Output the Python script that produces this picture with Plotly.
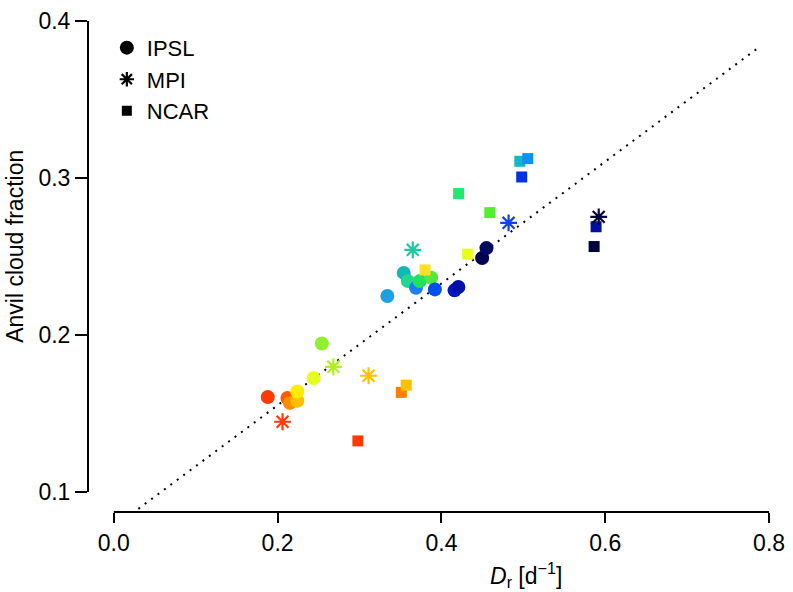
import plotly.graph_objects as go

# ---- data ----
ipsl_x = [0.188, 0.212, 0.215, 0.224, 0.224, 0.244, 0.254, 0.334, 0.354, 0.359,
          0.369, 0.3735, 0.3875, 0.392, 0.416, 0.4207, 0.4497, 0.455]
ipsl_y = [0.1604, 0.1598, 0.1567, 0.1581, 0.1640, 0.1726, 0.1945, 0.2248, 0.2395, 0.2343,
          0.2300, 0.2343, 0.2364, 0.2290, 0.2284, 0.2305, 0.2490, 0.2553]
ipsl_c = ["#ff3a00", "#ff5a00", "#ff8c00", "#ffbe00", "#ffec00", "#e4ff1c", "#8ef02e",
          "#1ea0e0", "#12b6b6", "#22d890", "#1a80f0", "#22e060", "#52e83e", "#0050f0",
          "#0018c0", "#0010a8", "#00004e", "#000a60"]

mpi_x = [0.206, 0.268, 0.311, 0.365, 0.482, 0.592]
mpi_y = [0.1447, 0.1797, 0.1740, 0.2542, 0.2714, 0.2752]
mpi_c = ["#ff3a10", "#b0f020", "#ffc000", "#20c8a0", "#1040f0", "#000040"]

ncar_x = [0.298, 0.351, 0.357, 0.380, 0.432, 0.421, 0.459, 0.4957, 0.5054, 0.498, 0.5888, 0.5864]
ncar_y = [0.1325, 0.1634, 0.1680, 0.2414, 0.2515, 0.2900, 0.2779, 0.3106, 0.3123, 0.3006, 0.2689, 0.2563]
ncar_c = ["#ff3a00", "#ff8000", "#ffc000", "#ffe020", "#e8ff20", "#20e870", "#50f030",
          "#10b8c8", "#1090f0", "#0030e0", "#0010a0", "#000040"]

# regression line (dotted)
fit_slope = 0.388
fit_intercept = 0.0776
fit_x = [0.03, 0.79]

x_ticks = [0.0, 0.2, 0.4, 0.6, 0.8]
x_ticklabels = ["0.0", "0.2", "0.4", "0.6", "0.8"]
y_ticks = [0.1, 0.2, 0.3, 0.4]
y_ticklabels = ["0.1", "0.2", "0.3", "0.4"]

FONT = "Liberation Sans, Arial, Helvetica, sans-serif"
FS = 23

W, H = 793, 592
ML, MR, MT, MB = 88, 8, 8, 80
PW, PH = W - ML - MR, H - MT - MB

fig = go.Figure()

fig.add_trace(go.Scatter(
    x=fit_x, y=[fit_intercept + fit_slope * v for v in fit_x],
    mode="lines", line=dict(color="black", width=2, dash="2px,6px"),
    showlegend=False, hoverinfo="skip"))

fig.add_trace(go.Scatter(
    x=ipsl_x, y=ipsl_y, mode="markers", showlegend=False,
    marker=dict(symbol="circle", size=14, color=ipsl_c, line=dict(width=0))))
fig.add_trace(go.Scatter(
    x=ncar_x, y=ncar_y, mode="markers", showlegend=False,
    marker=dict(symbol="square", size=11, color=ncar_c, line=dict(width=0))))
fig.add_trace(go.Scatter(
    x=mpi_x, y=mpi_y, mode="markers", showlegend=False,
    marker=dict(symbol="asterisk-open", size=14, color=mpi_c,
                line=dict(width=2.2, color=mpi_c))))

# legend-only traces
fig.add_trace(go.Scatter(x=[None], y=[None], mode="markers", name="IPSL", legendgroup="a",
                         marker=dict(symbol="circle", size=14, color="black")))
fig.add_trace(go.Scatter(x=[None], y=[None], mode="markers", name="MPI", legendgroup="b",
                         marker=dict(symbol="asterisk-open", size=12, color="black",
                                     line=dict(width=2.2, color="black"))))
fig.add_trace(go.Scatter(x=[None], y=[None], mode="markers", name="NCAR", legendgroup="c",
                         marker=dict(symbol="square", size=10, color="black")))

# R-style detached axis lines
fig.add_shape(type="line", xref="x", yref="paper", x0=x_ticks[0], x1=x_ticks[-1], y0=0, y1=0,
              line=dict(color="black", width=2))
fig.add_shape(type="line", xref="paper", yref="y", x0=0, x1=0, y0=y_ticks[0], y1=y_ticks[-1],
              line=dict(color="black", width=2))

fig.add_annotation(text="<i>D</i><sub>r</sub> [d<sup>\u22121</sup>]", xref="paper", yref="paper",
                   x=(530 - ML) / PW, y=-(576 - (H - MB)) / PH, xanchor="center", yanchor="middle",
                   showarrow=False, font=dict(family=FONT, size=FS, color="black"))
fig.add_annotation(text="Anvil cloud fraction", xref="paper", yref="paper", textangle=-90,
                   x=-(ML - 15) / PW, y=(H - MB - 243) / PH, xanchor="center", yanchor="middle",
                   showarrow=False, font=dict(family=FONT, size=FS, color="black"))

fig.update_layout(
    width=W, height=H,
    margin=dict(l=ML, r=MR, t=MT, b=MB),
    paper_bgcolor="white", plot_bgcolor="white",
    font=dict(family=FONT, size=FS, color="black"),
    legend=dict(x=(107 - ML) / PW, y=(H - MB - 21) / PH, xanchor="left", yanchor="top",
                bgcolor="rgba(0,0,0,0)", font=dict(size=22), tracegroupgap=0,
                traceorder="grouped"),
    xaxis=dict(range=[-26 / 826.25, 0.8 + 10 / 826.25], tickvals=x_ticks, ticktext=x_ticklabels,
               ticks="outside", ticklen=10, tickwidth=2, tickcolor="black",
               showgrid=False, zeroline=False, showline=False),
    yaxis=dict(range=[0.1 - 20.3 / 1589, 0.4 + 7 / 1589], tickvals=y_ticks, ticktext=y_ticklabels,
               ticks="outside", ticklen=12, tickwidth=2, tickcolor="black",
               showgrid=False, zeroline=False, showline=False),
)

fig.write_html("out.html", config={"displayModeBar": False},
               post_script="document.body.style.margin='0';document.body.style.overflow='hidden';")
